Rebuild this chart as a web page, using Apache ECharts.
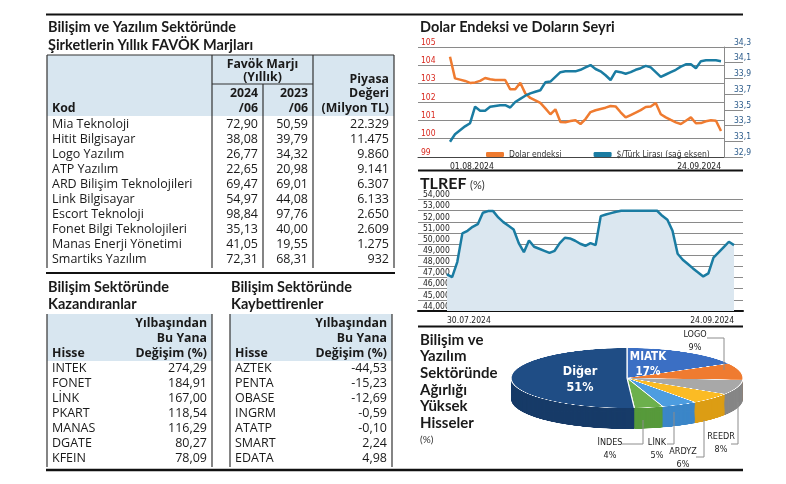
<!DOCTYPE html>
<html><head><meta charset="utf-8">
<script src="https://cdn.jsdelivr.net/npm/echarts@6/dist/echarts.min.js"></script>
<style>
html,body{margin:0;padding:0;background:#fff;}
#pie{position:absolute;left:509px;top:260px;width:236px;height:320px;transform-origin:118px 118px;transform:scaleY(0.2586);z-index:1;}
#main{position:absolute;left:0;top:0;width:786px;height:484px;z-index:2;}
</style></head><body>
<div id="pie"></div><div id="main"></div>
<script>
// ---------- DATA ----------
const favokNames = ['Mia Teknoloji','Hitit Bilgisayar','Logo Yazılım','ATP Yazılım','ARD Bilişim Teknolojileri','Link Bilgisayar','Escort Teknoloji','Fonet Bilgi Teknolojileri','Manas Enerji Yönetimi','Smartiks Yazılım'];
const favok2024 = [72.90,38.08,26.77,22.65,69.47,54.97,98.84,35.13,41.05,72.31];
const favok2023 = [50.59,39.79,34.32,20.98,69.01,44.08,97.76,40.00,19.55,68.31];
const piyasaDegeri = [22329,11475,9860,9141,6307,6133,2650,2609,1275,932];

const gainNames = ['INTEK','FONET','LİNK','PKART','MANAS','DGATE','KFEIN'];
const gainValues = [274.29,184.91,167.00,118.54,116.29,80.27,78.09];
const loseNames = ['AZTEK','PENTA','OBASE','INGRM','ATATP','SMART','EDATA'];
const loseValues = [-44.53,-15.23,-12.69,-0.59,-0.10,2.24,4.98];

const dxyDates = ['01.08.2024','02.08.2024','03.08.2024','04.08.2024','05.08.2024','06.08.2024','07.08.2024','08.08.2024','09.08.2024','10.08.2024','11.08.2024','12.08.2024','13.08.2024','14.08.2024','15.08.2024','16.08.2024','17.08.2024','18.08.2024','19.08.2024','20.08.2024','21.08.2024','22.08.2024','23.08.2024','24.08.2024','25.08.2024','26.08.2024','27.08.2024','28.08.2024','29.08.2024','30.08.2024','31.08.2024','01.09.2024','02.09.2024','03.09.2024','04.09.2024','05.09.2024','06.09.2024','07.09.2024','08.09.2024','09.09.2024','10.09.2024','11.09.2024','12.09.2024','13.09.2024','14.09.2024','15.09.2024','16.09.2024','17.09.2024','18.09.2024','19.09.2024','20.09.2024','21.09.2024','22.09.2024','23.09.2024','24.09.2024'];
const dxyValues = [104.47,103.29,103.22,103.15,103.04,103.07,103.15,103.31,103.24,103.2,103.2,103.2,102.69,102.69,103.05,102.47,102.22,102.09,101.95,101.65,101.33,101.6,100.91,100.89,100.96,101.0,100.8,101.07,101.45,101.55,101.62,101.69,101.78,101.76,101.44,101.16,101.29,101.42,101.56,101.73,101.75,101.95,101.33,101.16,101.02,100.89,100.8,100.98,101.16,100.84,100.85,100.95,101.0,100.98,100.42];
const usdTryValues = [33.095,33.19,33.24,33.29,33.33,33.54,33.49,33.49,33.54,33.55,33.56,33.56,33.53,33.6,33.64,33.68,33.71,33.73,33.75,33.85,33.86,33.92,33.98,33.99,33.99,33.99,34.01,34.04,34.07,34.02,33.99,33.94,33.88,33.99,33.98,33.96,33.98,34.01,34.03,34.06,34.04,33.98,33.92,33.95,33.98,34.01,34.05,34.08,34.08,34.03,34.12,34.13,34.13,34.13,34.12];
const dxyLeftTicks = [99,100,101,102,103,104,105];
const dxyRightTicks = [32.9,33.1,33.3,33.5,33.7,33.9,34.1,34.3];

const tlrefDates = ['30.07.2024','31.07.2024','01.08.2024','02.08.2024','03.08.2024','04.08.2024','05.08.2024','06.08.2024','07.08.2024','08.08.2024','09.08.2024','10.08.2024','11.08.2024','12.08.2024','13.08.2024','14.08.2024','15.08.2024','16.08.2024','17.08.2024','18.08.2024','19.08.2024','20.08.2024','21.08.2024','22.08.2024','23.08.2024','24.08.2024','25.08.2024','26.08.2024','27.08.2024','28.08.2024','29.08.2024','30.08.2024','31.08.2024','01.09.2024','02.09.2024','03.09.2024','04.09.2024','05.09.2024','06.09.2024','07.09.2024','08.09.2024','09.09.2024','10.09.2024','11.09.2024','12.09.2024','13.09.2024','14.09.2024','15.09.2024','16.09.2024','17.09.2024','18.09.2024','19.09.2024','20.09.2024','21.09.2024','22.09.2024','23.09.2024','24.09.2024'];
const tlrefValues = [47.28,47.04,48.39,50.96,51.19,51.55,51.79,52.81,52.96,52.96,52.39,51.97,51.64,51.31,50.09,49.28,50.33,49.76,49.58,49.4,49.22,49.4,50.09,50.57,50.51,50.3,50.03,49.85,50.09,49.91,52.51,52.66,52.78,52.9,52.99,52.99,52.99,52.99,52.99,52.99,52.99,52.99,52.54,52.18,51.19,49.13,48.6,48.21,47.82,47.46,47.1,47.37,48.78,49.25,49.73,50.21,49.91];
const tlrefTicks = [44,45,46,47,48,49,50,51,52,53,54];

const pieNames = ['MIATK','LOGO','REEDR','ARDYZ','LİNK','İNDES','Diğer'];
const pieValues = [17,9,8,6,5,4,51];

// ---------- STYLE ----------
const TOP_COLORS = ['#3b6fc4','#ef7b30','#a8a8a8','#fbbb24','#4d9de0','#6cb04c','#1f4d85'];
const SIDE_COLORS = ['#2d5aa6','#d1661f','#868686','#dc9d14','#3b86c8','#579a3b','#173b68'];
const COND = "'Liberation Sans Narrow','DejaVu Sans Condensed',sans-serif";
const SANS = "Lato,'Open Sans',sans-serif";
const BODY = "'Open Sans',Lato,sans-serif";
const INK = '#1a1a1a';
const fmt2 = v => v.toFixed(2).replace('.', ',');
const fmtThousands = v => String(v).replace(/\B(?=(\d{3})+(?!\d))/g, '.');

// ---------- PIE (separate instance, squashed into an ellipse) ----------
const pie = echarts.init(document.getElementById('pie'), null, {renderer:'canvas'});
const pieSeries = [];
for (let d = 81; d > 0; d -= 2) {
  pieSeries.push({type:'pie', center:[118, 118 + d], radius:116, startAngle:90, silent:true, animation:false,
    label:{show:false}, labelLine:{show:false}, emphasis:{disabled:true},
    data: pieNames.map((n,i)=>({name:n, value:pieValues[i], itemStyle:{color:SIDE_COLORS[i]}}))});
}
pieSeries.push({type:'pie', center:[118,118], radius:116, startAngle:90, silent:true, animation:false,
  label:{show:false}, labelLine:{show:false}, emphasis:{disabled:true},
  itemStyle:{borderColor:'#ffffff', borderWidth:1.2},
  data: pieNames.map((n,i)=>({name:n, value:pieValues[i], itemStyle:{color:TOP_COLORS[i]}}))});
pie.setOption({animation:false, series:pieSeries});

// ---------- MAIN ----------
const g = [];
const T = (text, x, y, font, align, fill) => g.push({type:'text', x, y, silent:true, style:{text, font, fill: fill || INK, align: align || 'left', verticalAlign:'middle'}});
const L = (x1,y1,x2,y2,w,c) => g.push({type:'line', silent:true, shape:{x1,y1,x2,y2}, style:{stroke:c||'#333', lineWidth:w||1}});
const R = (x,y,w,h,fill) => g.push({type:'rect', silent:true, shape:{x,y,width:w,height:h}, style:{fill}});
const P = (pts) => g.push({type:'polyline', silent:true, shape:{points:pts}, style:{stroke:'#8c8c8c', lineWidth:1, fill:null}});

const FT = 'bold 14.5px ' + SANS;
const FB = 'bold 12.3px ' + BODY;
const FN = '12.5px ' + BODY;

// section rules
L(46,14.5,743,14.5,2,'#111');
L(46,273,395,273,2,'#111');
L(46,470,743,470,2.5,'#111');
L(418,170.5,743,170.5,2,'#111');
L(418,326.5,743,326.5,2,'#111');

// titles
T('Bilişim ve Yazılım Sektöründe', 48, 27, FT);
T('Şirketlerin Yıllık FAVÖK Marjları', 48, 45, FT);
T('Dolar Endeksi ve Doların Seyri', 420, 27, FT);
T('TLREF', 420, 184, 'bold 16px ' + SANS);
T('(%)', 470, 185, '11px ' + SANS, 'left', '#333');

// FAVOK table
R(47,55,347,61,'#d8e6f0');
L(47,55,394,55,1.2,'#333');
L(47,55,47,268,1.2,'#333'); L(394,55,394,268,1.2,'#333');
L(212,55,212,268,1.2,'#333'); L(313,55,313,268,1.2,'#333');
L(263,84,263,268,1.2,'#333'); L(212,84,313,84,1.2,'#333');
T('Favök Marjı', 262.5, 64, FB, 'center');
T('(Yıllık)', 262.5, 77, FB, 'center');
T('2024', 258, 93, FB, 'right'); T('/06', 258, 108, FB, 'right');
T('2023', 308, 93, FB, 'right'); T('/06', 308, 108, FB, 'right');
T('Kod', 52, 108, FB);
T('Piyasa', 389, 79, FB, 'right'); T('Değeri', 389, 93, FB, 'right'); T('(Milyon TL)', 389, 108, FB, 'right');
favokNames.forEach((n,i)=>{
  const y = 124 + 15*i;
  T(n, 52, y, FN);
  T(fmt2(favok2024[i]), 258, y, FN, 'right');
  T(fmt2(favok2023[i]), 308, y, FN, 'right');
  T(fmtThousands(piyasaDegeri[i]), 389, y, FN, 'right');
});

// gainers / losers
function smallTable(x0, x1, title2, names, values) {
  T('Bilişim Sektöründe', x0 + 1, 287, FT);
  T(title2, x0 + 1, 304, FT);
  R(x0, 314, x1 - x0, 47, '#d8e6f0');
  L(x0,314,x0,467,1.2,'#333'); L(x1,314,x1,467,1.2,'#333');
  T('Yılbaşından', x1 - 5, 323, FB, 'right');
  T('Bu Yana', x1 - 5, 338, FB, 'right');
  T('Değişim (%)', x1 - 5, 353, FB, 'right');
  T('Hisse', x0 + 5, 353, FB);
  names.forEach((n,i)=>{
    const y = 368 + 15*i;
    T(n, x0 + 5, y, FN);
    T(fmt2(values[i]), x1 - 5, y, FN, 'right');
  });
}
smallTable(47, 212, 'Kazandıranlar', gainNames, gainValues);
smallTable(230, 392, 'Kaybettirenler', loseNames, loseValues);

// pie section text
['Bilişim ve','Yazılım','Sektöründe','Ağırlığı','Yüksek','Hisseler'].forEach((t,i)=>T(t, 420, 340 + 16.6*i, 'bold 15px ' + SANS));
T('(%)', 420, 440, '10px ' + SANS, 'left', '#333');

// pie labels
const lbl = i => pieNames[i] + '\n' + pieValues[i] + '%';
const FPL = '9px ' + COND;
g.push({type:'text', x:648, y:365, silent:true, style:{text:lbl(0), font:'bold 11.5px ' + COND, fill:'#fff', align:'center', verticalAlign:'middle', lineHeight:15}});
g.push({type:'text', x:580, y:380, silent:true, style:{text:lbl(6), font:'bold 12.5px ' + COND, fill:'#fff', align:'center', verticalAlign:'middle', lineHeight:16}});
const outer = [[1,695,341],[2,721,443],[3,683,458],[4,657,449],[5,610,449]];
outer.forEach(([i,x,y])=>g.push({type:'text', x, y, silent:true, style:{text:lbl(i), font:FPL, fill:'#222', align:'center', verticalAlign:'middle', lineHeight:13}}));
P([[707,338],[724,338],[724,370]]);
P([[731,444],[738,444],[738,402]]);
P([[696,457],[704,457],[704,420]]);
P([[667,444],[674,444],[674,412]]);
P([[622,444],[643,444],[643,420]]);

const chart = echarts.init(document.getElementById('main'));
const hiddenY = (gi, mn, mx, pos) => ({gridIndex:gi, type:'value', min:mn, max:mx, position:pos, show:false});
const catAxis = (gi, data) => ({gridIndex:gi, type:'category', data, boundaryGap:false,
  axisLine:{show:false}, axisTick:{show:false},
  axisLabel:{interval:(i)=> i===0 || i===data.length-1, alignMinLabel:'left', alignMaxLabel:'right',
    margin:5, fontSize:8.5, color:'#222', fontFamily:COND}});
chart.setOption({
  animation:false,
  backgroundColor:'transparent',
  graphic:{elements:g},
  legend:{left:481, top:145, itemWidth:18, itemHeight:5, icon:'roundRect', itemGap:32,
    textStyle:{fontSize:8.5, color:'#333', fontFamily:COND},
    data:['Dolar endeksi','$/Türk Lirası (sağ eksen)']},
  grid:[
    {left:418, top:47, width:306, height:110},
    {left:450, top:47, width:271, height:110},
    {left:418, top:199.5, width:325, height:111.5},
    {left:447, top:199.5, width:287, height:111.5}
  ],
  xAxis:[
    {gridIndex:0, type:'value', min:0, max:1, axisLine:{show:true, lineStyle:{color:'#444', width:1}}, axisTick:{show:false}, axisLabel:{show:false}, splitLine:{show:false}},
    catAxis(1, dxyDates),
    {gridIndex:2, type:'value', min:0, max:1, axisLine:{show:true, lineStyle:{color:'#111', width:2}}, axisTick:{show:false}, axisLabel:{show:false}, splitLine:{show:false}},
    catAxis(3, tlrefDates)
  ],
  yAxis:[
    {gridIndex:0, type:'value', min:dxyLeftTicks[0], max:dxyLeftTicks[dxyLeftTicks.length-1], interval:1, position:'left',
      axisLine:{show:false}, axisTick:{show:false},
      splitLine:{show:true, lineStyle:{color:'#8a8a8a', width:1}},
      axisLabel:{inside:true, margin:3, verticalAlign:'bottom', color:'#d8281e', fontSize:8.5, fontFamily:COND}},
    {gridIndex:0, type:'value', min:dxyRightTicks[0], max:dxyRightTicks[dxyRightTicks.length-1], position:'right',
      axisLine:{show:true, lineStyle:{color:'#8a8a8a', width:1}},
      axisTick:{show:true, length:19, customValues:dxyRightTicks, lineStyle:{color:'#8a8a8a', width:1}},
      splitLine:{show:false},
      axisLabel:{customValues:dxyRightTicks, margin:10, verticalAlign:'bottom', color:'#2a5a8a', fontSize:8.5, fontFamily:COND,
        formatter:v=>v.toFixed(1).replace('.',',')}},
    hiddenY(1, dxyLeftTicks[0], dxyLeftTicks[dxyLeftTicks.length-1], 'left'),
    hiddenY(1, dxyRightTicks[0], dxyRightTicks[dxyRightTicks.length-1], 'right'),
    {gridIndex:2, type:'value', min:tlrefTicks[0], max:tlrefTicks[tlrefTicks.length-1], interval:1, position:'left',
      axisLine:{show:false}, axisTick:{show:false},
      splitLine:{show:true, lineStyle:{color:'#8a8a8a', width:1}},
      axisLabel:{inside:true, margin:5, verticalAlign:'bottom', color:'#222', fontSize:8.5, fontFamily:COND,
        formatter:v=>v.toFixed(3).replace('.',',')}},
    hiddenY(3, tlrefTicks[0], tlrefTicks[tlrefTicks.length-1], 'left')
  ],
  series:[
    {name:'Dolar endeksi', type:'line', xAxisIndex:1, yAxisIndex:2, data:dxyValues, symbol:'none',
      lineStyle:{color:'#ef7b30', width:2.5}, itemStyle:{color:'#ef7b30'}},
    {name:'$/Türk Lirası (sağ eksen)', type:'line', xAxisIndex:1, yAxisIndex:3, data:usdTryValues, symbol:'none',
      lineStyle:{color:'#1a7ca2', width:2.5}, itemStyle:{color:'#1a7ca2'}},
    {name:'TLREF', type:'line', xAxisIndex:3, yAxisIndex:5, data:tlrefValues, symbol:'none',
      lineStyle:{color:'#1a7ca2', width:2.5}, itemStyle:{color:'#1a7ca2'},
      areaStyle:{color:'#dbe7f0', opacity:1, origin:'start'}}
  ]
});
</script>
</body></html>
